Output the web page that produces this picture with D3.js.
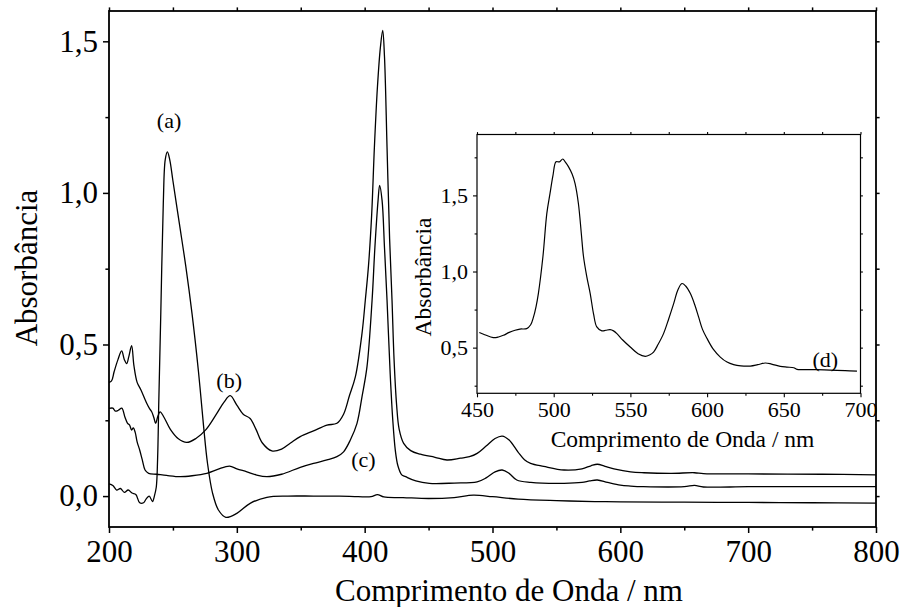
<!DOCTYPE html>
<html><head><meta charset="utf-8">
<script src="https://cdn.jsdelivr.net/npm/d3@7"></script>
<style>
body{margin:0;background:#fff;}
text{font-family:"Liberation Serif","Times New Roman",serif;fill:#000;}
</style></head>
<body><svg id="c" width="901" height="607"></svg>
<script>
// ---- data ----
const waveA = [200,203,206,209,212,215,218,221,224,227,229,231.5,234,235.5,237,238,239,240.5,242.5,244,245.7,247.5,250,255,260,265,270,274,277,281,285.6,291.4,300,310.4,323.5,340,360,380,395,405,410,415,430,450,470,485,500,520,550,580,600,650,700,750,800];
const absA  = [0.04,0.035,0.02,0.025,0.012,0.02,0.01,0.005,-0.022,-0.022,-0.01,0.0,-0.018,0.0,0.03,0.12,0.32,0.6,0.97,1.11,1.135,1.11,1.04,0.9,0.76,0.6,0.41,0.23,0.11,0.01,-0.046,-0.07,-0.057,-0.024,-0.004,0.0,0.0,0.0,-0.002,-0.002,0.005,-0.003,-0.005,-0.008,-0.005,0.003,-0.002,-0.01,-0.015,-0.018,-0.019,-0.02,-0.021,-0.022,-0.023];

const waveB = [200,202,204,207,209.9,212,213.8,215.5,217.7,219.5,222,225,229.5,231.5,233.4,235,236.5,238,240,243,248,254,260.8,268,276,284,290,294.8,300,305,310.4,315,320,327.4,335,342,349.6,360,370.5,378.3,383.5,388,392.7,397.9,400.5,403,405.5,407.6,410,412.3,414.1,415.5,417.5,419.5,421.4,423,425,427,430.5,436,443.6,455,464.4,475,482,488,495,502,507.6,513,520,525,529.8,540,556,570,577,582,588,595,608,618.5,640,658,665,700,758,800];
const absB  = [0.375,0.38,0.41,0.45,0.479,0.45,0.437,0.46,0.496,0.43,0.375,0.35,0.306,0.29,0.278,0.26,0.24,0.26,0.278,0.26,0.22,0.19,0.177,0.19,0.22,0.27,0.31,0.331,0.3,0.27,0.256,0.22,0.175,0.149,0.155,0.175,0.196,0.215,0.234,0.24,0.27,0.33,0.393,0.536,0.646,0.76,0.93,1.15,1.35,1.48,1.536,1.45,1.15,0.85,0.646,0.45,0.3,0.22,0.174,0.15,0.138,0.128,0.119,0.125,0.13,0.141,0.165,0.19,0.198,0.185,0.145,0.12,0.108,0.098,0.086,0.09,0.1,0.105,0.098,0.09,0.08,0.077,0.075,0.077,0.074,0.073,0.072,0.07];

const waveC = [200,203,205,207.3,210,212.5,214.5,216,217.7,219,220.5,222,224,226,228.2,231,237.3,245,255.6,265,276.5,285,294.3,300,307.9,315,323.5,335,349.6,360,370.5,378.3,383.5,388.8,394,398,401.8,405.8,408,410.5,411.7,413.6,415.5,417.5,420,422,424,426,429,432,440,450.6,470,488,495,502,507.6,513,519,530,556,570,576,582,590,600,608,618,650,658,665,700,750,800];
const absC  = [0.289,0.29,0.28,0.283,0.29,0.26,0.24,0.235,0.218,0.225,0.21,0.179,0.152,0.12,0.086,0.075,0.072,0.068,0.064,0.067,0.075,0.088,0.099,0.09,0.08,0.07,0.064,0.072,0.095,0.108,0.119,0.13,0.146,0.185,0.24,0.33,0.426,0.646,0.82,0.976,1.025,0.976,0.82,0.646,0.4,0.25,0.15,0.1,0.07,0.064,0.05,0.042,0.043,0.047,0.06,0.08,0.086,0.075,0.053,0.045,0.042,0.045,0.05,0.053,0.045,0.036,0.033,0.031,0.031,0.035,0.03,0.031,0.031,0.031];

const waveD = [451.5,455,460.6,464,467.2,471,474.8,478,482.4,485,486.8,488.5,490,493,495.5,497.6,499.5,501.5,503.7,505.9,507.5,509.6,512,513.9,516.1,518,519.4,521.5,523.8,526,528.1,531.4,534,536.8,539,541.2,545,549.9,555,559.7,562.5,565.1,568,571.6,575,578.2,581,583.6,586,589.1,592,594.5,597,600,604,608.6,613,617.3,622,628.2,633,637.9,642,647.7,652,656.5,658.6,665,671.6,680,690,697.7];
const absD  = [0.599,0.585,0.566,0.57,0.581,0.6,0.614,0.622,0.625,0.65,0.70,0.77,0.855,1.1,1.38,1.513,1.63,1.721,1.72,1.739,1.72,1.689,1.64,1.579,1.447,1.25,1.10,0.97,0.855,0.72,0.636,0.61,0.614,0.618,0.61,0.592,0.55,0.504,0.46,0.443,0.452,0.471,0.52,0.592,0.69,0.789,0.88,0.921,0.905,0.855,0.78,0.70,0.62,0.559,0.49,0.438,0.405,0.388,0.38,0.379,0.388,0.399,0.392,0.377,0.372,0.368,0.357,0.356,0.355,0.352,0.349,0.346];

const mainXTicks = [200,300,400,500,600,700,800];
const mainYTicks = [0.0,0.5,1.0,1.5];
const insetXTicks = [450,500,550,600,650,700];
const insetYTicks = [0.5,1.0,1.5];
const curveLabels = ["(a)","(b)","(c)","(d)"];

// ---- drawing ----
const svg = d3.select("#c");
svg.append("rect").attr("width",901).attr("height",607).attr("fill","#fff");
const comma = v => d3.format(".1f")(v).replace(".",",");

function panel(cfg){
  const g = svg.append("g");
  const x = d3.scaleLinear().domain(cfg.xd).range([cfg.l,cfg.r]);
  const y = d3.scaleLinear().domain(cfg.yd).range([cfg.b,cfg.t]);
  g.append("rect").attr("x",cfg.l).attr("y",cfg.t).attr("width",cfg.r-cfg.l).attr("height",cfg.b-cfg.t)
    .attr("fill","#fff").attr("stroke","#000").attr("stroke-width",cfg.fw);
  const minorX = d3.range(cfg.xd[0],cfg.xd[1]+0.001,cfg.xm).filter(v=>!cfg.xt.includes(v));
  const minorY = d3.range(Math.ceil(cfg.yd[0]/cfg.ym)*cfg.ym,cfg.yd[1]+0.0001,cfg.ym).map(v=>+v.toFixed(3)).filter(v=>!cfg.yt.some(t=>Math.abs(t-v)<1e-6));
  const style = sel => { sel.select(".domain").remove(); sel.selectAll("line").attr("stroke","#000").attr("stroke-width",cfg.tw);
    sel.selectAll("text").attr("font-family",'"Liberation Serif",serif').attr("font-size",cfg.fs).attr("fill","#000"); };
  g.append("g").attr("transform",`translate(0,${cfg.b})`).call(d3.axisBottom(x).tickValues(cfg.xt).tickSize(cfg.ts).tickPadding(cfg.xp).tickFormat(d3.format("d"))).call(style);
  g.append("g").attr("transform",`translate(0,${cfg.b})`).call(d3.axisBottom(x).tickValues(minorX).tickSize(cfg.ts*0.6).tickFormat("")).call(style);
  g.append("g").attr("transform",`translate(0,${cfg.t})`).call(d3.axisTop(x).tickValues(cfg.xt.concat(minorX)).tickSize(cfg.ts*0.6).tickFormat("")).call(style);
  g.append("g").attr("transform",`translate(${cfg.l},0)`).call(d3.axisLeft(y).tickValues(cfg.yt).tickSize(cfg.ts).tickPadding(cfg.yp).tickFormat(comma)).call(style);
  g.append("g").attr("transform",`translate(${cfg.l},0)`).call(d3.axisLeft(y).tickValues(minorY).tickSize(cfg.ts*0.6).tickFormat("")).call(style);
  g.append("g").attr("transform",`translate(${cfg.r},0)`).call(d3.axisRight(y).tickValues(cfg.yt.concat(minorY)).tickSize(cfg.ts*0.6).tickFormat("")).call(style);
  g.append("text").attr("x",cfg.xtx).attr("y",cfg.xty).attr("text-anchor","middle").attr("font-size",cfg.tfs).text("Comprimento de Onda / nm");
  g.append("text").attr("transform",`translate(${cfg.ytx},${cfg.yty}) rotate(-90)`).attr("text-anchor","middle").attr("font-size",cfg.tfs).text("Absorbância");
  return {g,x,y};
}

const M = panel({l:109,r:876,t:11,b:527,xd:[200,800],yd:[-0.102,1.6],xt:mainXTicks,yt:mainYTicks,xm:50,ym:0.25,
  fw:1.8,tw:1.5,ts:6,xp:7,yp:5,fs:31,tfs:31,xtx:509,xty:601,ytx:37,yty:268});

const line = (sc) => d3.line().x(d=>sc.x(d[0])).y(d=>sc.y(d[1])).curve(d3.curveCatmullRom.alpha(0.5));
[[waveA,absA],[waveB,absB],[waveC,absC]].forEach(([w,a])=>{
  M.g.append("path").datum(w.map((v,i)=>[v,a[i]])).attr("d",line(M)).attr("fill","none").attr("stroke","#000").attr("stroke-width",1.3);
});

const I = panel({l:477,r:860.5,t:134.5,b:393.3,xd:[450,700],yd:[0.2,1.9],xt:insetXTicks,yt:insetYTicks,xm:25,ym:0.25,
  fw:1.2,tw:1.1,ts:4,xp:4,yp:5,fs:22,tfs:23.5,xtx:682.5,xty:446.5,ytx:431,yty:277});
I.g.append("path").datum(waveD.map((v,i)=>[v,absD[i]])).attr("d",line(I)).attr("fill","none").attr("stroke","#000").attr("stroke-width",1.2);

const labelPos = [[M,247,1.24],[M,294,0.38],[M,399,0.12],[I,677,0.42]];
labelPos.forEach(([p,xv,yv],i)=>{
  svg.append("text").attr("x",p.x(xv)).attr("y",p.y(yv)).attr("text-anchor","middle").attr("dominant-baseline","central")
    .attr("font-size",22).text(curveLabels[i]);
});
</script></body></html>
